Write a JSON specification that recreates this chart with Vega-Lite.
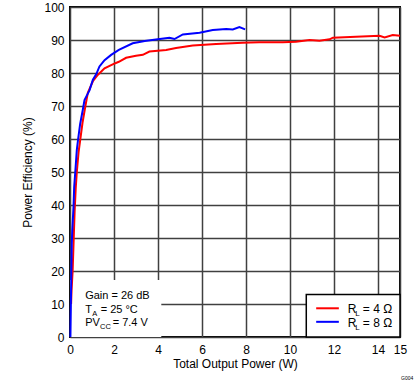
{
  "$schema": "https://vega.github.io/schema/vega-lite/v6.json",
  "width": 330,
  "height": 330,
  "autosize": {"type": "none"},
  "padding": {"left": 70, "top": 7, "right": 19, "bottom": 45},
  "background": "white",
  "data": {"values": [{}]},
  "config": {
    "font": "Liberation Sans",
    "view": {"stroke": "#000", "strokeWidth": 2},
    "text": {"align": "left", "baseline": "alphabetic", "color": "#000"},
    "axis": {
      "labelFont": "Liberation Sans", "labelFontSize": 12, "labelColor": "#000",
      "titleFont": "Liberation Sans", "titleFontSize": 12, "titleFontWeight": "normal", "titleColor": "#000",
      "domain": false, "ticks": false, "grid": true, "gridColor": "#404040", "gridWidth": 1.5, "gridOpacity": 1,
      "labelFlush": false, "labelOverlap": false
    }
  },
  "datasets": {
    "curves": [
      {"power": 0.05, "eff": 10, "load": "4"},
      {"power": 0.07, "eff": 14, "load": "4"},
      {"power": 0.12, "eff": 20, "load": "4"},
      {"power": 0.17, "eff": 30, "load": "4"},
      {"power": 0.21, "eff": 38, "load": "4"},
      {"power": 0.26, "eff": 45, "load": "4"},
      {"power": 0.31, "eff": 50, "load": "4"},
      {"power": 0.39, "eff": 56, "load": "4"},
      {"power": 0.47, "eff": 60, "load": "4"},
      {"power": 0.57, "eff": 65, "load": "4"},
      {"power": 0.7, "eff": 70, "load": "4"},
      {"power": 0.81, "eff": 74, "load": "4"},
      {"power": 1.04, "eff": 77.5, "load": "4"},
      {"power": 1.26, "eff": 79.4, "load": "4"},
      {"power": 1.57, "eff": 81.4, "load": "4"},
      {"power": 1.94, "eff": 82.6, "load": "4"},
      {"power": 2.22, "eff": 83.4, "load": "4"},
      {"power": 2.55, "eff": 84.6, "load": "4"},
      {"power": 3.0, "eff": 85.2, "load": "4"},
      {"power": 3.31, "eff": 85.5, "load": "4"},
      {"power": 3.61, "eff": 86.5, "load": "4"},
      {"power": 4.37, "eff": 87.0, "load": "4"},
      {"power": 4.82, "eff": 87.6, "load": "4"},
      {"power": 5.58, "eff": 88.3, "load": "4"},
      {"power": 6.64, "eff": 88.8, "load": "4"},
      {"power": 7.85, "eff": 89.2, "load": "4"},
      {"power": 8.6, "eff": 89.3, "load": "4"},
      {"power": 9.67, "eff": 89.3, "load": "4"},
      {"power": 10.27, "eff": 89.5, "load": "4"},
      {"power": 10.89, "eff": 90.0, "load": "4"},
      {"power": 11.34, "eff": 89.8, "load": "4"},
      {"power": 11.8, "eff": 90.2, "load": "4"},
      {"power": 11.95, "eff": 90.7, "load": "4"},
      {"power": 13.0, "eff": 91.0, "load": "4"},
      {"power": 14.07, "eff": 91.3, "load": "4"},
      {"power": 14.3, "eff": 90.8, "load": "4"},
      {"power": 14.67, "eff": 91.5, "load": "4"},
      {"power": 15.0, "eff": 91.3, "load": "4"},
      {"power": 0.02, "eff": 0, "load": "8"},
      {"power": 0.04, "eff": 10, "load": "8"},
      {"power": 0.06, "eff": 20, "load": "8"},
      {"power": 0.08, "eff": 28, "load": "8"},
      {"power": 0.1, "eff": 32, "load": "8"},
      {"power": 0.16, "eff": 39.5, "load": "8"},
      {"power": 0.19, "eff": 45.5, "load": "8"},
      {"power": 0.24, "eff": 50, "load": "8"},
      {"power": 0.31, "eff": 56.7, "load": "8"},
      {"power": 0.37, "eff": 60, "load": "8"},
      {"power": 0.46, "eff": 64.5, "load": "8"},
      {"power": 0.58, "eff": 68.8, "load": "8"},
      {"power": 0.66, "eff": 71.8, "load": "8"},
      {"power": 0.89, "eff": 74.8, "load": "8"},
      {"power": 1.04, "eff": 78, "load": "8"},
      {"power": 1.19, "eff": 79.6, "load": "8"},
      {"power": 1.34, "eff": 82, "load": "8"},
      {"power": 1.57, "eff": 83.9, "load": "8"},
      {"power": 1.87, "eff": 85.5, "load": "8"},
      {"power": 2.22, "eff": 87, "load": "8"},
      {"power": 2.85, "eff": 89, "load": "8"},
      {"power": 3.4, "eff": 89.7, "load": "8"},
      {"power": 3.99, "eff": 90.2, "load": "8"},
      {"power": 4.52, "eff": 90.7, "load": "8"},
      {"power": 4.75, "eff": 90.3, "load": "8"},
      {"power": 5.13, "eff": 91.7, "load": "8"},
      {"power": 5.89, "eff": 92.2, "load": "8"},
      {"power": 6.49, "eff": 93.0, "load": "8"},
      {"power": 7.1, "eff": 93.3, "load": "8"},
      {"power": 7.4, "eff": 93.2, "load": "8"},
      {"power": 7.7, "eff": 93.9, "load": "8"},
      {"power": 7.96, "eff": 93.2, "load": "8"}
    ]
  },
  "layer": [
    {
      "mark": {"type": "rect", "fill": "white"},
      "encoding": {
        "x": {"datum": 0, "type": "quantitative", "scale": {"domain": [0, 15], "nice": false},
              "axis": {"title": "Total Output Power (W)", "values": [0, 2, 4, 6, 8, 10, 12, 14, 15], "labelPadding": 7, "titlePadding": 3}},
        "x2": {"datum": 4.15},
        "y": {"datum": 0, "type": "quantitative", "scale": {"domain": [0, 100], "nice": false},
              "axis": {"title": "Power Efficiency (%)", "values": [0, 10, 20, 30, 40, 50, 60, 70, 80, 90, 100], "labelPadding": 6, "titlePadding": 9}},
        "y2": {"datum": 17.3}
      }
    },
    {
      "mark": {"type": "rect", "fill": "white", "stroke": "#000", "strokeWidth": 1.5},
      "encoding": {
        "x": {"datum": 10.74, "type": "quantitative",
              "axis": {"title": "Total Output Power (W)", "values": [0, 2, 4, 6, 8, 10, 12, 14, 15], "labelPadding": 7, "titlePadding": 3}},
        "x2": {"datum": 15},
        "y": {"datum": 0, "type": "quantitative",
              "axis": {"title": "Power Efficiency (%)", "values": [0, 10, 20, 30, 40, 50, 60, 70, 80, 90, 100], "labelPadding": 6, "titlePadding": 9}},
        "y2": {"datum": 12.9}
      }
    },
    {
      "data": {"name": "curves"},
      "mark": {"type": "line", "strokeWidth": 2},
      "encoding": {
        "x": {"field": "power", "type": "quantitative", "scale": {"domain": [0, 15], "nice": false},
              "axis": {"title": "Total Output Power (W)", "values": [0, 2, 4, 6, 8, 10, 12, 14, 15], "labelPadding": 7, "titlePadding": 3}},
        "y": {"field": "eff", "type": "quantitative", "scale": {"domain": [0, 100], "nice": false},
              "axis": {"title": "Power Efficiency (%)", "values": [0, 10, 20, 30, 40, 50, 60, 70, 80, 90, 100], "labelPadding": 6, "titlePadding": 9}},
        "color": {"field": "load", "type": "nominal", "scale": {"domain": ["4", "8"], "range": ["#ff0000", "#0000ff"]}, "legend": null},
        "order": {"field": "power", "type": "quantitative"}
      }
    },
    {
      "encoding": {
        "x": {"datum": 11.19, "type": "quantitative",
              "axis": {"title": "Total Output Power (W)", "values": [0, 2, 4, 6, 8, 10, 12, 14, 15], "labelPadding": 7, "titlePadding": 3}},
        "y": {"datum": 8.7, "type": "quantitative",
              "axis": {"title": "Power Efficiency (%)", "values": [0, 10, 20, 30, 40, 50, 60, 70, 80, 90, 100], "labelPadding": 6, "titlePadding": 9}}
      },
      "layer": [
        {"mark": {"type": "rule", "stroke": "#ff0000", "strokeWidth": 2}, "encoding": {"x2": {"datum": 12.22}}}
      ]
    },
    {
      "encoding": {
        "x": {"datum": 11.19, "type": "quantitative",
              "axis": {"title": "Total Output Power (W)", "values": [0, 2, 4, 6, 8, 10, 12, 14, 15], "labelPadding": 7, "titlePadding": 3}},
        "y": {"datum": 4.6, "type": "quantitative",
              "axis": {"title": "Power Efficiency (%)", "values": [0, 10, 20, 30, 40, 50, 60, 70, 80, 90, 100], "labelPadding": 6, "titlePadding": 9}}
      },
      "layer": [
        {"mark": {"type": "rule", "stroke": "#0000ff", "strokeWidth": 2}, "encoding": {"x2": {"datum": 12.22}}}
      ]
    },
    {
      "encoding": {
        "x": {"datum": 12.63, "type": "quantitative",
              "axis": {"title": "Total Output Power (W)", "values": [0, 2, 4, 6, 8, 10, 12, 14, 15], "labelPadding": 7, "titlePadding": 3}},
        "y": {"datum": 7.2, "type": "quantitative",
              "axis": {"title": "Power Efficiency (%)", "values": [0, 10, 20, 30, 40, 50, 60, 70, 80, 90, 100], "labelPadding": 6, "titlePadding": 9}}
      },
      "layer": [
        {"mark": {"type": "text", "fontSize": 12}, "encoding": {"text": {"value": "R"}}},
        {"mark": {"type": "text", "fontSize": 8, "dx": 7.5, "dy": 3}, "encoding": {"text": {"value": "L"}}},
        {"mark": {"type": "text", "fontSize": 12, "dx": 15}, "encoding": {"text": {"value": "= 4 Ω"}}}
      ]
    },
    {
      "encoding": {
        "x": {"datum": 12.63, "type": "quantitative",
              "axis": {"title": "Total Output Power (W)", "values": [0, 2, 4, 6, 8, 10, 12, 14, 15], "labelPadding": 7, "titlePadding": 3}},
        "y": {"datum": 3.1, "type": "quantitative",
              "axis": {"title": "Power Efficiency (%)", "values": [0, 10, 20, 30, 40, 50, 60, 70, 80, 90, 100], "labelPadding": 6, "titlePadding": 9}}
      },
      "layer": [
        {"mark": {"type": "text", "fontSize": 12}, "encoding": {"text": {"value": "R"}}},
        {"mark": {"type": "text", "fontSize": 8, "dx": 7.5, "dy": 3}, "encoding": {"text": {"value": "L"}}},
        {"mark": {"type": "text", "fontSize": 12, "dx": 15}, "encoding": {"text": {"value": "= 8 Ω"}}}
      ]
    },
    {
      "encoding": {
        "x": {"datum": 0.69, "type": "quantitative",
              "axis": {"title": "Total Output Power (W)", "values": [0, 2, 4, 6, 8, 10, 12, 14, 15], "labelPadding": 7, "titlePadding": 3}},
        "y": {"datum": 11.5, "type": "quantitative",
              "axis": {"title": "Power Efficiency (%)", "values": [0, 10, 20, 30, 40, 50, 60, 70, 80, 90, 100], "labelPadding": 6, "titlePadding": 9}}
      },
      "layer": [
        {"mark": {"type": "text", "fontSize": 11}, "encoding": {"text": {"value": "Gain = 26 dB"}}}
      ]
    },
    {
      "encoding": {
        "x": {"datum": 0.69, "type": "quantitative",
              "axis": {"title": "Total Output Power (W)", "values": [0, 2, 4, 6, 8, 10, 12, 14, 15], "labelPadding": 7, "titlePadding": 3}},
        "y": {"datum": 7.2, "type": "quantitative",
              "axis": {"title": "Power Efficiency (%)", "values": [0, 10, 20, 30, 40, 50, 60, 70, 80, 90, 100], "labelPadding": 6, "titlePadding": 9}}
      },
      "layer": [
        {"mark": {"type": "text", "fontSize": 11}, "encoding": {"text": {"value": "T"}}},
        {"mark": {"type": "text", "fontSize": 7.5, "dx": 7, "dy": 3}, "encoding": {"text": {"value": "A"}}},
        {"mark": {"type": "text", "fontSize": 11, "dx": 15.5}, "encoding": {"text": {"value": "= 25 °C"}}}
      ]
    },
    {
      "encoding": {
        "x": {"datum": 0.69, "type": "quantitative",
              "axis": {"title": "Total Output Power (W)", "values": [0, 2, 4, 6, 8, 10, 12, 14, 15], "labelPadding": 7, "titlePadding": 3}},
        "y": {"datum": 3.4, "type": "quantitative",
              "axis": {"title": "Power Efficiency (%)", "values": [0, 10, 20, 30, 40, 50, 60, 70, 80, 90, 100], "labelPadding": 6, "titlePadding": 9}}
      },
      "layer": [
        {"mark": {"type": "text", "fontSize": 11}, "encoding": {"text": {"value": "PV"}}},
        {"mark": {"type": "text", "fontSize": 7.5, "dx": 14.8, "dy": 3}, "encoding": {"text": {"value": "CC"}}},
        {"mark": {"type": "text", "fontSize": 11, "dx": 27.5}, "encoding": {"text": {"value": "= 7.4 V"}}}
      ]
    },
    {
      "encoding": {
        "x": {"datum": 15, "type": "quantitative",
              "axis": {"title": "Total Output Power (W)", "values": [0, 2, 4, 6, 8, 10, 12, 14, 15], "labelPadding": 7, "titlePadding": 3}},
        "y": {"datum": 0, "type": "quantitative",
              "axis": {"title": "Power Efficiency (%)", "values": [0, 10, 20, 30, 40, 50, 60, 70, 80, 90, 100], "labelPadding": 6, "titlePadding": 9}}
      },
      "layer": [
        {"mark": {"type": "text", "fontSize": 5, "dx": 1, "dy": 43}, "encoding": {"text": {"value": "G004"}}}
      ]
    }
  ]
}
